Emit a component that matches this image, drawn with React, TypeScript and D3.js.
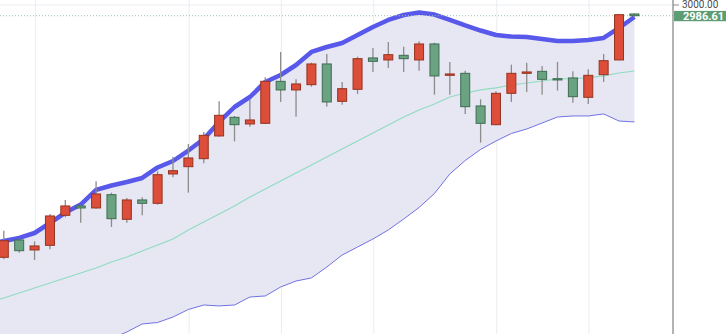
import React from "react";
import * as d3 from "d3";

// Candles (index 1..42)
const opens = [2684.6, 2706.3, 2693.8, 2699.6, 2737.1, 2748.8, 2746.3, 2762.9, 2732.1, 2756.3, 2752.1, 2788.8, 2797.9, 2807.9, 2836.3, 2859.6, 2851.3, 2852.1, 2904.6, 2893.8, 2900.4, 2926.3, 2879.6, 2894.6, 2933.8, 2931.3, 2937.1, 2931.3, 2951.3, 2912.1, 2914.6, 2873.8, 2850.4, 2889.6, 2914.6, 2917.1, 2907.9, 2908.8, 2884.6, 2912.9, 2931.3, 2988.8];
const highs = [2717.9, 2707.9, 2704.6, 2738.8, 2756.3, 2749.6, 2779.6, 2765.4, 2758.8, 2759.6, 2792.1, 2810.4, 2826.3, 2841.3, 2879.6, 2861.3, 2882.1, 2909.6, 2941.3, 2907.1, 2927.9, 2938.8, 2903.8, 2935.4, 2946.3, 2953.8, 2947.9, 2954.6, 2952.9, 2928.8, 2917.9, 2882.1, 2892.1, 2925.4, 2927.9, 2923.8, 2928.8, 2917.1, 2919.6, 2938.8, 2988.8, 2989.6];
const lows = [2682.1, 2690.4, 2681.3, 2694.6, 2734.6, 2727.9, 2745.4, 2722.5, 2727.9, 2737.1, 2750.4, 2784.6, 2765.4, 2802.1, 2835.4, 2829.6, 2847.9, 2851.3, 2878.8, 2860.4, 2897.9, 2872.9, 2875.4, 2888.8, 2916.3, 2921.3, 2916.3, 2917.9, 2887.9, 2887.9, 2863.8, 2827.9, 2849.6, 2878.8, 2891.3, 2887.9, 2892.9, 2877.9, 2876.3, 2903.8, 2931.3, 2985.4];
const closes = [2705.4, 2692.9, 2698.8, 2736.3, 2748.8, 2746.3, 2763.8, 2732.9, 2756.3, 2752.1, 2787.9, 2792.9, 2808.8, 2837.1, 2862.1, 2850.4, 2856.3, 2904.6, 2893.8, 2901.3, 2926.3, 2878.8, 2895.4, 2932.9, 2929.6, 2937.9, 2932.9, 2951.3, 2911.3, 2913.8, 2872.9, 2852.1, 2889.6, 2914.6, 2916.3, 2907.1, 2906.3, 2885.4, 2912.1, 2930.4, 2987.9, 2986.61];

// Bollinger bands (index 0..42)
const upperBand = [2701.3, 2705, 2708.8, 2715, 2727.5, 2740.6, 2750.6, 2768.8, 2774.4, 2778.8, 2783.8, 2796.9, 2805, 2818.1, 2832.5, 2853.8, 2872.5, 2885, 2903.8, 2912.5, 2925, 2941.3, 2947.5, 2952.5, 2962.5, 2972.5, 2981.3, 2987.5, 2990.6, 2988.1, 2981.3, 2974.4, 2968.1, 2962.5, 2960.6, 2960, 2957.5, 2955, 2955, 2956.3, 2958.8, 2971.3, 2985];
const middleBand = [2627.5, 2633.8, 2640, 2646.3, 2652.5, 2658.8, 2665, 2671.3, 2678.8, 2685, 2692.5, 2700, 2707.5, 2718.8, 2728.8, 2738.8, 2748.8, 2760, 2770, 2780, 2790, 2800, 2810, 2820, 2830, 2840, 2850, 2860, 2868.8, 2876.3, 2885, 2890, 2893.8, 2896.3, 2900, 2902.5, 2905, 2907.5, 2908.1, 2908.8, 2911.3, 2915, 2917.5];
const lowerBand = [2553.8, 2562.5, 2571.3, 2577.5, 2577.5, 2576.9, 2579.4, 2573.8, 2583.1, 2591.3, 2601.3, 2603.1, 2610, 2619.4, 2625, 2623.8, 2625, 2635, 2636.3, 2647.5, 2655, 2658.8, 2672.5, 2687.5, 2697.5, 2707.5, 2718.8, 2732.5, 2746.9, 2764.4, 2788.8, 2805.6, 2819.4, 2830, 2839.4, 2845, 2852.5, 2860, 2861.3, 2861.3, 2863.8, 2855, 2853.8];

const gridIndices = [3, 13, 19, 25, 33, 39];
const yTicks = [3000];
const lastPrice = 2986.61;

const W = 726;
const H = 334;
const AXIS_X = 673;

export default function App() {
  const x = d3.scaleLinear().domain([1, 42]).range([3.8, 634.4]);
  const y = d3.scaleLinear().domain([2588.75, 3006.25]).range([H, 0]);

  const bandIdx = upperBand.map((_, i) => i);
  const area = d3
    .area<number>()
    .x((i) => x(i))
    .y0((i) => y(lowerBand[i]))
    .y1((i) => y(upperBand[i]));
  const line = (arr: number[]) =>
    d3
      .line<number>()
      .x((i) => x(i))
      .y((i) => y(arr[i]))(bandIdx) || "";

  const candles = opens.map((o, k) => ({
    i: k + 1,
    o,
    h: highs[k],
    l: lows[k],
    c: closes[k],
  }));
  const bw = 9;

  return (
    <svg
      width={W}
      height={H}
      style={{ position: "absolute", left: 0, top: 0, background: "#fff" }}
      fontFamily="Roboto, 'Noto Sans', sans-serif"
    >
      <defs>
        <clipPath id="plot">
          <rect x={0} y={0} width={AXIS_X} height={H} />
        </clipPath>
      </defs>
      <g clipPath="url(#plot)">
        {gridIndices.map((g) => (
          <line key={g} x1={x(g) + 0.8} x2={x(g) + 0.8} y1={0} y2={H} stroke="#e9edf2" strokeWidth={1} />
        ))}
        {yTicks.map((t) => (
          <line key={t} x1={0} x2={AXIS_X} y1={y(t)} y2={y(t)} stroke="#e9edf2" strokeWidth={1} />
        ))}
        <path d={area(bandIdx) || ""} fill="#e7e7f3" />
        <path d={line(middleBand)} fill="none" stroke="#8fdcc0" strokeWidth={1.2} />
        <path d={line(lowerBand)} fill="none" stroke="#7272e4" strokeWidth={1} />
        <path d={line(upperBand)} fill="none" stroke="#5858ea" strokeWidth={4.5} strokeLinejoin="round" />
        <line
          x1={0}
          x2={AXIS_X}
          y1={y(lastPrice)}
          y2={y(lastPrice)}
          stroke="#9cbfa8"
          strokeWidth={1}
          strokeDasharray="1,2"
        />
        {candles.map((d) => {
          const up = d.c >= d.o;
          const top = y(Math.max(d.o, d.c));
          const bot = y(Math.min(d.o, d.c));
          return (
            <g key={d.i}>
              <line x1={x(d.i)} x2={x(d.i)} y1={y(d.h)} y2={y(d.l)} stroke="#8c8c8c" strokeWidth={1.3} />
              <rect
                x={x(d.i) - bw / 2}
                y={top}
                width={bw}
                height={Math.max(1, bot - top)}
                fill={up ? "#dc4e3a" : "#6aa382"}
                stroke={up ? "#96321f" : "#3d6c50"}
                strokeWidth={1}
              />
            </g>
          );
        })}
      </g>
      <line x1={AXIS_X} x2={AXIS_X} y1={0} y2={H} stroke="#8a8a8a" strokeWidth={1.3} />
      {yTicks.map((t) => (
        <g key={t}>
          <line x1={AXIS_X} x2={AXIS_X + 6} y1={y(t)} y2={y(t)} stroke="#8a8a8a" strokeWidth={1} />
          <text x={AXIS_X + 9} y={y(t) + 3.4} fontSize={10} fill="#4a4a4a">
            {t.toFixed(2)}
          </text>
        </g>
      ))}
      <rect x={AXIS_X + 1} y={y(lastPrice) - 4.8} width={W - AXIS_X} height={10.3} fill="#5e9c74" />
      <text x={AXIS_X + 10} y={y(lastPrice) + 4} fontSize={11} fontWeight="bold" fill="#fff">
        {lastPrice.toFixed(2)}
      </text>
    </svg>
  );
}
